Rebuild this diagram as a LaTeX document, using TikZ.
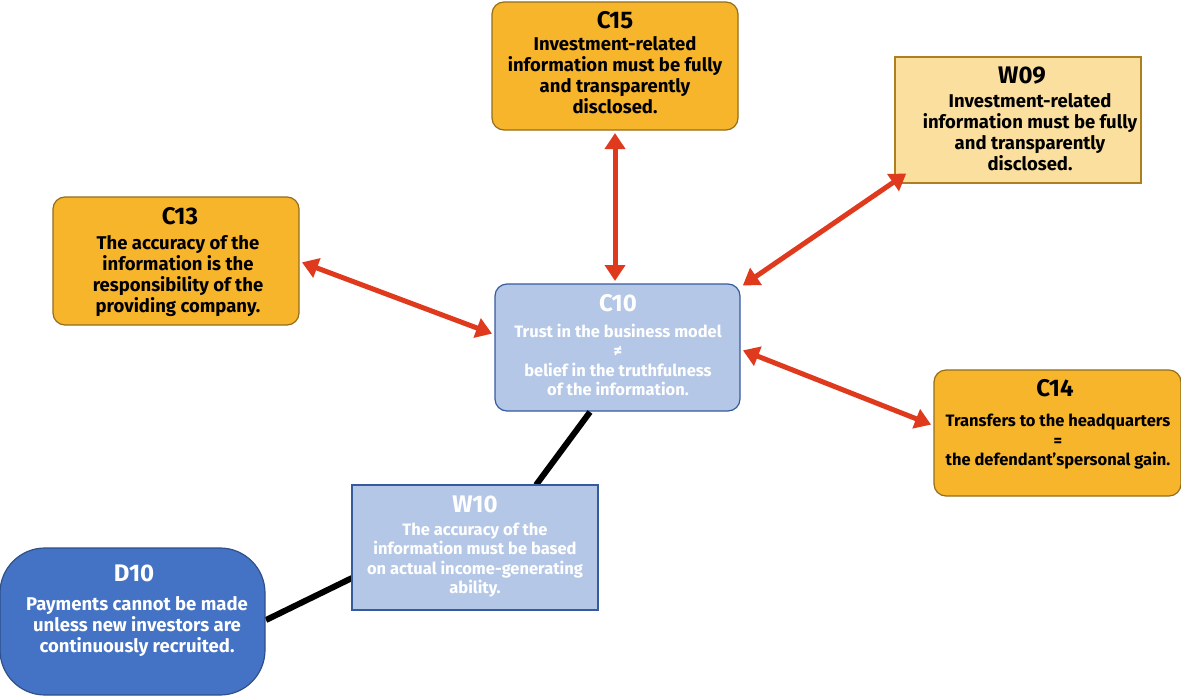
\documentclass[tikz,border=0pt]{standalone}
\usepackage{fontspec}
\setmainfont{Fira Sans}
\usetikzlibrary{arrows.meta}
\definecolor{org}{HTML}{F7B52C}
\definecolor{lorg}{HTML}{FBDF9E}
\definecolor{lblue}{HTML}{B4C7E7}
\definecolor{dblue}{HTML}{4472C4}
\definecolor{ared}{HTML}{E03A1E}
\begin{document}
\begin{tikzpicture}[x=1pt,y=-1pt,
 box/.style={draw=#1!60!black,line width=1.2pt,rounded corners=12pt,inner sep=0pt},
 ttl/.style={font=\fontsize{24}{26}\selectfont\bfseries},
 bd/.style={font=\fontsize{18.5}{21}\selectfont\bfseries,align=center},
 sm/.style={font=\fontsize{16.5}{19.5}\selectfont\bfseries,align=center},
 rarr/.style={draw=ared,line width=5pt,{Triangle[length=16pt,width=20pt]}-{Triangle[length=16pt,width=20pt]},shorten <=1pt,shorten >=1pt},
 bline/.style={draw=black,line width=6pt}]
\useasboundingbox (0,0) rectangle (1181,696);
\path[box=org,fill=org] (492,2) rectangle (738,130);
\node[ttl] (c15t) at (615,20) {C15};
\node[bd] (c15b) at (615,75) {Investment-related\\information must be fully\\and transparently\\disclosed.};
\path[box=lorg,fill=lorg,rounded corners=0pt,draw=org!70!black] (895,57) rectangle (1141,183);
\node[ttl] (w09t) at (1022,76) {W09};
\node[bd] (w09b) at (1030,132) {Investment-related\\information must be fully\\and transparently\\disclosed.};
\path[box=org,fill=org] (53,197) rectangle (299,325);
\node[ttl] (c13t) at (180,216) {C13};
\node[bd] (c13b) at (178,276) {The accuracy of the\\information is the\\responsibility of the\\providing company.};
\path[box=lblue,fill=lblue,draw=dblue!80!black] (495,284) rectangle (740,411);
\node[ttl,text=white] (c10t) at (618,303) {C10};
\node[sm,text=white] (c10b) at (618,360) {Trust in the business model\\≠\\belief in the truthfulness\\of the information.};
\path[box=org,fill=org] (934,370) rectangle (1181,496);
\node[ttl] (c14t) at (1055,388) {C14};
\node[sm] (c14b) at (1058,442) {Transfers to the headquarters\\=\\the defendant'spersonal gain.};
\draw[rarr] (615,132) -- (615,282);
\draw[rarr] (907,173) -- (742,286);
\draw[rarr] (301,262) -- (493,334);
\draw[rarr] (932,425) -- (742,350);
\draw[bline] (590,412) -- (536,485);
\draw[bline] (352,578) -- (266,620);
\path[fill=lblue,draw=dblue!80!black,line width=1.2pt] (352,485) rectangle (598,610);
\node[ttl,text=white] (w10t) at (475,504) {W10};
\node[sm,text=white] (w10b) at (475,560) {The accuracy of the\\information must be based\\on actual income-generating\\ability.};
\path[fill=dblue,draw=dblue!70!black,line width=1.2pt,rounded corners=45pt] (0,548) rectangle (265,695);
\node[ttl,text=white] (d10t) at (134,573) {D10};
\node[bd,text=white] (d10b) at (137,627) {Payments cannot be made\\unless new investors are\\continuously recruited.};
\end{tikzpicture}
\end{document}
